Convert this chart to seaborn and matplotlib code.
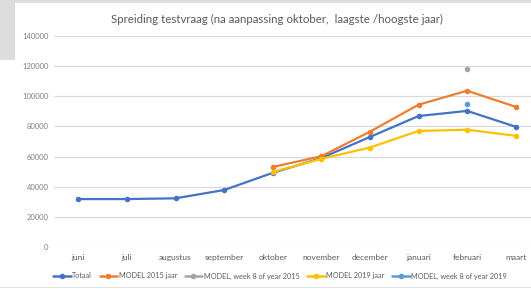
import pandas as pd
import seaborn as sns
import matplotlib.pyplot as plt
from matplotlib.patches import Rectangle

# ───────────────────────
# Data
# ───────────────────────
months = ["juni", "juli", "augustus", "september", "oktober",
          "november", "december", "januari", "februari", "maart"]

totaal = [31800, 31800, 32300, 37800, 49200, 59000, 73000, 86900, 90300, 79800]
model_2015 = [None, None, None, None, 53100, 60200, 76500, 94400, 103700, 93000]
model_week8_2015 = [None, None, None, None, None, None, None, None, 118200, None]
model_2019 = [None, None, None, None, 49800, 58500, 66000, 77000, 77800, 73800]
model_week8_2019 = [None, None, None, None, None, None, None, None, 94900, None]

series = {
    "Totaal": (totaal, "#4472C4"),
    "MODEL 2015 jaar": (model_2015, "#ED7D31"),
    "MODEL, week 8 of year 2015": (model_week8_2015, "#A5A5A5"),
    "MODEL 2019 jaar": (model_2019, "#FFC000"),
    "MODEL, week 8 of year 2019": (model_week8_2019, "#5B9BD5"),
}

rows = []
for name, (vals, _) in series.items():
    for i, v in enumerate(vals):
        if v is not None:
            rows.append({"pos": i, "value": v, "series": name})
df = pd.DataFrame(rows)
palette = {name: c for name, (_, c) in series.items()}

# ───────────────────────
# Style
# ───────────────────────
sns.set_theme(style="white")
plt.rcParams["font.family"] = ["Lato", "DejaVu Sans"]
text_grey = "#595959"

fig = plt.figure(figsize=(5.31, 2.89), dpi=100)
fig.patch.set_facecolor("white")

# screenshot frame bits
fig.patches.append(Rectangle((0, 1 - 3 / 289), 1, 3 / 289, transform=fig.transFigure,
                             facecolor="#DCDCDC", edgecolor="none", zorder=0))
fig.patches.append(Rectangle((0, 1 - 60 / 289), 15 / 531, 60 / 289, transform=fig.transFigure,
                             facecolor="#DCDCDC", edgecolor="none", zorder=0))
fig.patches.append(Rectangle((0, 1 / 289), 1, 1.2 / 289, transform=fig.transFigure,
                             facecolor="#E4E4E4", edgecolor="none", zorder=0))

ax = fig.add_axes([54 / 531, 42 / 289, 486 / 531, 211 / 289])

sns.lineplot(data=df, x="pos", y="value", hue="series", palette=palette,
             hue_order=list(series.keys()), marker="o", markersize=4,
             markeredgewidth=0, linewidth=1.6, ax=ax, legend=True)

ax.set_xlim(-0.5, len(months) - 0.5)
ax.set_ylim(0, 140000)
ax.set_yticks(range(0, 140001, 20000))
ax.set_yticklabels([str(v) for v in range(0, 140001, 20000)])
ax.set_xticks(range(len(months)))
ax.set_xticklabels(months)
ax.tick_params(axis="x", length=0, labelsize=6, labelcolor=text_grey, pad=5)
ax.tick_params(axis="y", length=0, labelsize=5.5, labelcolor="#7F7F7F", pad=4)
ax.grid(axis="y", color="#D9D9D9", linewidth=0.8)
ax.set_axisbelow(True)
for s in ax.spines.values():
    s.set_visible(False)
ax.set_xlabel("")
ax.set_ylabel("")

handles, labels = ax.get_legend_handles_labels()
for h in handles:
    h.set_linewidth(1.8)
ax.get_legend().remove()
fig.legend(handles, labels, loc="center", bbox_to_anchor=(280 / 531, 1 - 276 / 289),
           ncol=5, frameon=False, fontsize=5.2, labelcolor=text_grey,
           handlelength=2.4, handletextpad=0.2, columnspacing=1.1)

fig.text(277 / 531, 1 - 19 / 289,
         "Spreiding testvraag (na aanpassing oktober,  laagste /hoogste jaar)",
         ha="center", va="center", fontsize=8.3, color=text_grey)

fig.savefig("out.png", dpi=100)
